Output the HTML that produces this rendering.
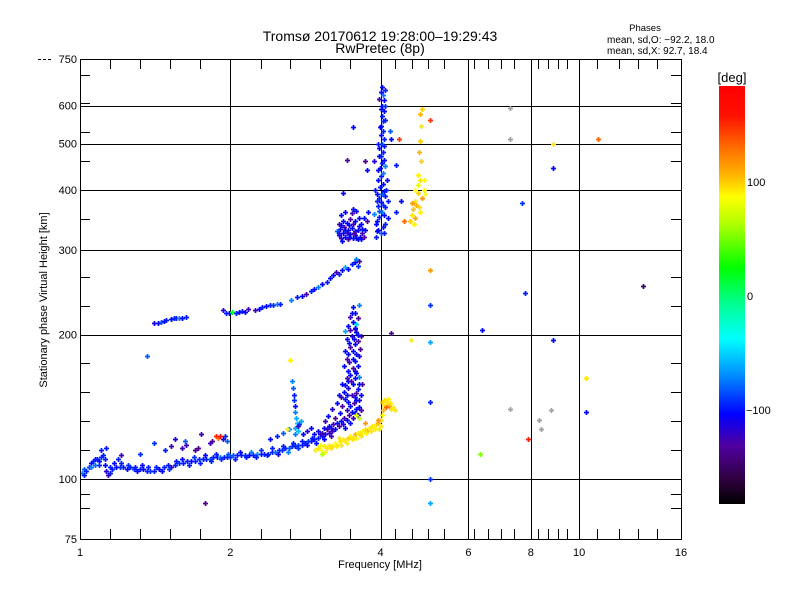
<!DOCTYPE html>
<html><head><meta charset="utf-8"><style>
body{margin:0;background:#fff;}
svg{display:block;font-family:"Liberation Sans",sans-serif;}
</style></head><body>
<svg id="chart" width="800" height="600" viewBox="0 0 800 600">
<defs>
<linearGradient id="cbar" x1="0" y1="0" x2="0" y2="1">
<stop offset="0" stop-color="#ff0000"/><stop offset="0.07" stop-color="#ff1000"/><stop offset="0.15" stop-color="#ff7000"/><stop offset="0.21" stop-color="#ffb000"/><stop offset="0.265" stop-color="#ffff00"/><stop offset="0.33" stop-color="#b0ff00"/><stop offset="0.435" stop-color="#00ff00"/><stop offset="0.52" stop-color="#00ff90"/><stop offset="0.605" stop-color="#00ffff"/><stop offset="0.69" stop-color="#0090ff"/><stop offset="0.785" stop-color="#0000ff"/><stop offset="0.86" stop-color="#5000a0"/><stop offset="0.94" stop-color="#300040"/><stop offset="1" stop-color="#000000"/>
</linearGradient>
</defs>
<rect x="0" y="0" width="800" height="600" fill="#fff"/>
<g id="grid"></g>
<g id="ticks"></g>
<g id="pts"></g>
<rect x="80.5" y="59.5" width="601" height="480" fill="none" stroke="#000" stroke-width="1"/>
<line x1="38" y1="59.5" x2="52" y2="59.5" stroke="#000" stroke-dasharray="3,2"/>
<text x="380" y="41" font-size="14" text-anchor="middle">Tromsø 20170612 19:28:00–19:29:43</text>
<text x="380" y="53" font-size="14" text-anchor="middle">RwPretec (8p)</text>
<text x="645" y="31" font-size="9.5" text-anchor="middle">Phases</text>
<text x="607" y="43" font-size="10">mean, sd,O: −92.2, 18.0</text>
<text x="607" y="54" font-size="10">mean, sd,X:  92.7, 18.4</text>
<text x="380" y="568" font-size="11" text-anchor="middle">Frequency [MHz]</text>
<text transform="translate(47,300) rotate(-90)" font-size="11" text-anchor="middle">Stationary phase Virtual Height [km]</text>
<rect x="719" y="86" width="26" height="418" fill="url(#cbar)"/>
<text x="732" y="82" font-size="13" text-anchor="middle">[deg]</text>
<g id="cbticks"></g>
</svg>
<script>
const NS="http://www.w3.org/2000/svg";
const xMajor=[1,2,4,6,8,10,16];
const xGrid=[2,4,6,8,10];
const xMinor=[1.149,1.32,1.516,1.741,2.30,2.64,3.03,3.48,4.27,4.63,4.97,5.37,6.15,6.57,6.97,7.39,8.28,8.68,9.07,9.46,10.88,12.0,13.1,14.3];
const yMajor=[75,100,200,300,400,500,600,750];
const yGrid=[100,200,300,400,500,600];
const yMinor=[87,93,114.9,132,151.6,174.1,229.7,263.9,348.2,459.5,528,606,696];
const cbLabels=[100,0,-100];

const lowTrace=[[1.01,103,-70],[1.02,105,-80],[1.03,104,-95],[1.04,106,-90],[1.05,108,-100],[1.06,109,-95],[1.07,107,-75],[1.08,110,-95],[1.09,109,-100],[1.10,111,-90],[1.11,112,-95],[1.12,107,-100],[1.13,104,-110],[1.14,102,-120],[1.15,103,-95],[1.16,105,-95],[1.17,108,-100],[1.19,110,-95],[1.20,106,-90],[1.22,106,-95],[1.24,105,-100],[1.26,106,-95],[1.28,105,-90],[1.30,104,-100],[1.32,105,-95],[1.34,105,-100],[1.36,104,-95],[1.38,104,-90],[1.41,104,-95],[1.44,105,-100],[1.47,106,-95],[1.50,107,-95],[1.52,106,-120],[1.55,107,-95],[1.58,108,-90],[1.61,108,-95],[1.64,109,-95],[1.67,109,-100],[1.70,109,-95],[1.73,110,-90],[1.76,110,-95],[1.79,110,-95],[1.82,110,-80],[1.85,111,-95],[1.88,111,-100],[1.91,111,-70],[1.94,111,-95],[1.97,111,-95],[2.00,111,-90],[2.03,112,-80],[2.06,112,-95],[2.10,112,-95],[2.14,112,-90],[2.18,112,-100],[2.22,112,-95],[2.26,113,-70],[2.30,113,-95],[2.34,113,-95],[2.38,113,-90],[2.42,114,-95],[2.46,114,-75],[2.50,115,-95],[2.54,115,-90],[2.58,116,-95],[2.62,116,-80],[2.66,117,-90],[2.70,117,-95],[2.74,118,-85],[2.78,118,-95],[2.82,119,-95],[2.86,120,-90],[2.90,120,-95],[2.95,121,-100],[3.00,122,-95],[3.05,123,-100],[3.10,124,-110],[3.15,125,-115],[3.20,126,-120],[2.40,121,-100],[2.48,123,-95],[2.55,125,-80],[2.62,127,-70],[2.70,128,-60],[1.10,115,-95],[1.13,116,-95],[1.21,112,-120],[1.32,113,-90],[1.48,115,-95],[1.52,117,-120],[1.60,116,-120],[1.63,118,-120],[1.70,115,-130],[1.62,120,-80],[1.55,121,-110],[1.41,119,-90],[1.72,116,-130],[1.75,124,-120]];
const lowTrace2=[[1.02,102,-95],[1.05,106,-70],[1.07,110,-95],[1.09,107,-90],[1.12,110,-95],[1.15,106,-95],[1.18,106,-100],[1.21,108,-95],[1.25,107,-90],[1.29,106,-95],[1.33,107,-100],[1.37,106,-95],[1.42,106,-95],[1.46,104,-100],[1.51,105,-90],[1.56,109,-95],[1.60,110,-100],[1.65,107,-95],[1.69,111,-90],[1.74,108,-95],[1.78,112,-100],[1.83,109,-95],[1.87,113,-95],[1.92,110,-90],[1.98,113,-80],[2.04,110,-95],[2.09,114,-100],[2.15,111,-95],[2.20,114,-70],[2.25,111,-95],[2.31,115,-90],[2.37,112,-95],[2.43,116,-95],[2.49,113,-100],[2.55,117,-95],[2.61,114,-70],[2.67,119,-95],[2.73,116,-90],[2.79,120,-95],[2.85,118,-100],[2.91,122,-95],[2.97,119,-100],[3.02,124,-110],[3.08,121,-100],[3.13,127,-110],[3.18,123,-120],[2.80,124,-100],[2.85,126,-110],[2.90,128,-100]];
const redCluster=[[1.87,123,160],[1.89,122,140],[1.91,123,170],[1.93,121,-110],[1.95,123,-90],[1.82,119,-120],[1.84,120,-130],[1.97,120,-80]];
const column275=[[2.66,160,-70],[2.67,155,-80],[2.68,150,-95],[2.69,146,-90],[2.70,142,-100],[2.70,138,-70],[2.71,134,-60],[2.72,131,-50],[2.73,129,-120],[2.75,130,-90],[2.77,132,-60],[2.74,126,-55],[2.70,124,-70],[2.64,177,95],[2.60,127,95]];
const xCluster=[[2.95,124,-100],[3.00,126,-105],[3.05,125,-120],[3.08,128,-100],[3.12,127,-125],[3.15,129,-100],[3.18,128,-110],[3.22,130,-120],[3.25,127,-100],[3.28,131,-100],[3.30,129,-125],[3.33,132,-100],[3.36,130,-110],[3.38,134,-120],[3.40,128,-100],[3.43,133,-100],[3.46,136,-125],[3.48,131,-100],[3.50,138,-100],[3.52,134,-120],[3.55,137,-100],[3.58,140,-100],[3.60,136,-110],[3.62,141,-100],[3.65,139,-125],[3.20,140,-110],[3.28,144,-100],[3.35,142,-125],[3.40,147,-100],[3.45,145,-100],[3.50,150,-120],[3.55,148,-100],[3.38,152,-100],[3.45,155,-110],[3.52,158,-100],[3.60,154,-100],[3.42,162,-125],[3.48,165,-100],[3.55,168,-100],[3.62,163,-70],[3.38,172,-100],[3.46,175,-120],[3.52,178,-100],[3.58,182,-100],[3.40,185,-100],[3.48,188,-125],[3.56,191,-100],[3.64,187,-130],[3.42,196,-100],[3.50,199,-110],[3.58,202,-100],[3.45,160,-100],[3.35,158,-100],[3.60,172,-100],[3.30,150,-100],[3.62,146,-110],[3.66,150,-100],[3.68,158,-130],[3.45,208,-100],[3.52,212,-100],[3.58,210,-50],[3.48,218,-120],[3.56,222,-100],[3.60,216,-130],[3.52,228,-100],[3.62,230,-70],[3.55,205,-125],[3.66,199,-130],[3.40,203,-60]];
const xCluster2=[[3.10,132,-120],[3.14,135,-100],[3.24,134,-125],[3.32,137,-100],[3.42,139,-120],[3.47,142,-100],[3.54,144,-125],[3.58,146,-100],[3.34,148,-120],[3.42,150,-100],[3.58,151,-125],[3.40,157,-100],[3.49,160,-125],[3.56,162,-100],[3.62,158,-100],[3.44,168,-100],[3.52,170,-125],[3.58,166,-100],[3.42,178,-125],[3.56,176,-100],[3.62,180,-110],[3.45,182,-100],[3.52,185,-100],[3.60,194,-125],[3.46,192,-100],[3.54,196,-100],[3.48,204,-125],[3.56,206,-100],[3.60,200,-100],[3.50,222,-100]];
const yellowTrace=[[2.96,115,95],[3.00,116,100],[3.04,115,90],[3.08,117,95],[3.12,116,100],[3.16,118,95],[3.20,117,100],[3.24,119,90],[3.28,118,95],[3.32,120,100],[3.36,121,95],[3.40,120,100],[3.44,122,110],[3.48,123,95],[3.52,122,100],[3.56,124,120],[3.60,125,95],[3.64,124,100],[3.68,126,95],[3.72,127,100],[3.76,126,120],[3.80,128,95],[3.84,129,100],[3.88,128,95],[3.92,130,100],[3.96,131,120],[4.00,129,95],[4.00,133,100],[4.02,136,95],[4.04,139,120],[4.06,142,100],[4.03,145,110],[4.08,146,95],[4.12,144,100],[4.16,142,130],[4.20,140,100],[4.24,141,95],[4.28,139,100],[4.10,141,140],[3.05,113,60],[3.02,118,85],[3.30,122,100],[3.72,131,130],[3.95,133,130],[3.62,134,60],[3.58,136,80],[3.10,114,95],[3.18,116,100],[3.26,117,95],[3.34,118,100],[3.42,119,95],[3.50,121,100],[3.58,122,95],[3.66,123,100],[3.74,125,95],[3.82,126,100],[3.90,127,95],[3.98,127,100],[4.06,146,100],[4.14,147,95],[4.18,144,100]];
const midTrace=[[1.41,211,-110],[1.43,211,-100],[1.45,212,-80],[1.47,213,-100],[1.49,214,-95],[1.52,215,-100],[1.54,216,-90],[1.56,217,-95],[1.58,216,-70],[1.60,217,-100],[1.63,218,-95],[1.93,225,-110],[1.96,222,-95],[1.99,222,-100],[2.02,223,20],[2.05,222,-95],[2.08,223,-100],[2.11,224,-95],[2.14,223,-100],[2.17,226,-120],[2.24,225,-120],[2.28,226,-100],[2.32,228,-95],[2.36,229,-100],[2.40,230,-95],[2.44,230,-90],[2.48,231,-70],[2.52,232,-95],[2.65,236,-70],[2.72,240,-95],[2.78,241,-100],[2.84,243,-120],[2.90,246,-95],[2.95,249,-100],[3.00,251,-70],[3.06,255,-100],[3.12,257,-95],[3.17,262,-100],[3.22,266,-100],[3.26,270,-120],[3.30,268,-95],[3.35,272,-100],[3.40,276,-60],[3.45,274,-100],[3.50,280,-95],[3.55,283,-100],[3.60,278,-90],[3.63,285,-130],[3.58,287,-70]];
const upperBlob=[[3.30,322,-100],[3.33,318,-120],[3.36,325,-100],[3.40,320,-100],[3.44,316,-125],[3.48,324,-100],[3.52,318,-100],[3.56,322,-110],[3.60,316,-100],[3.64,320,-100],[3.68,325,-120],[3.72,330,-100],[3.32,332,-100],[3.38,335,-125],[3.44,330,-100],[3.50,333,-100],[3.56,328,-110],[3.62,336,-100],[3.30,340,-120],[3.36,345,-100],[3.42,342,-100],[3.48,348,-125],[3.55,344,-100],[3.62,350,-100],[3.34,355,-100],[3.40,360,-100],[3.50,358,-125],[3.58,362,-100],[3.66,340,-100],[3.70,350,-100],[3.75,345,-130],[3.78,360,-100],[3.28,328,-80],[3.46,338,-100],[3.52,366,-100],[3.31,326,-110],[3.35,314,-100],[3.42,326,-120],[3.46,320,-100],[3.54,326,-125],[3.58,318,-100],[3.66,316,-100],[3.70,320,-125],[3.34,338,-100],[3.40,330,-100],[3.52,340,-120],[3.60,330,-100],[3.68,332,-100]];
const column4=[[3.92,320,-95],[3.96,330,-100],[4.00,325,-80],[4.04,335,-95],[3.94,345,-100],[3.98,352,-95],[4.02,360,-70],[4.06,355,-100],[3.95,370,-95],[4.00,378,-100],[4.04,372,-90],[3.97,385,-95],[4.02,392,-80],[4.06,398,-100],[3.99,405,-95],[4.04,412,-100],[3.96,420,-100],[4.01,428,-95],[4.05,435,-70],[3.99,445,-100],[4.03,455,-95],[4.07,462,-100],[4.00,470,-90],[4.04,480,-95],[3.98,490,-100],[4.02,500,-80],[4.06,510,-95],[4.00,520,-100],[4.04,532,-95],[4.01,545,-100],[4.05,558,-90],[4.02,570,-95],[4.06,585,-100],[4.03,600,-95],[4.07,615,-100],[4.04,630,-70],[4.08,645,-95],[4.03,655,-100],[3.93,380,-95],[3.90,400,-100],[3.89,460,-110],[4.10,400,-95],[4.12,420,-100],[4.15,380,-95],[3.91,340,-100],[4.08,340,-95],[4.14,350,-100],[3.88,356,-70],[3.95,500,-95],[4.00,590,-100],[3.98,620,-120],[3.75,440,-100],[3.72,460,-130],[4.20,510,-100],[4.18,530,-80],[4.30,450,-95],[4.40,380,-100],[4.30,360,-95],[3.52,540,-100],[3.42,463,-125],[3.36,395,-100],[3.94,328,-100],[4.06,326,-95],[3.97,362,-80],[4.08,368,-95],[3.93,392,-100],[4.08,388,-95],[3.96,440,-100],[4.08,448,-70],[3.98,470,-100],[4.06,495,-95],[3.99,540,-100],[4.08,560,-95],[4.00,640,-100],[4.09,600,-90]];
const yellowColumn=[[4.85,590,110],[4.80,575,120],[4.82,545,100],[4.80,505,110],[4.78,480,120],[4.82,460,110],[4.75,430,95],[4.80,420,100],[4.70,400,90],[4.75,395,110],[4.68,380,100],[4.85,385,130],[4.72,372,120],[4.65,365,115],[4.78,368,105],[4.62,355,100],[4.70,350,125],[4.80,360,95],[4.58,345,110],[4.66,340,95],[4.90,400,95],[4.88,420,85],[4.92,392,90],[4.75,410,80],[4.62,375,130],[5.03,560,150],[4.45,345,140],[4.35,512,150]];
const scattered=[[5.03,273,130],[5.03,230,-90],[5.03,193,-60],[5.03,145,-95],[5.03,100,-90],[5.03,89,-60],[6.4,204,-100],[6.33,113,50],[7.7,375,-90],[7.8,244,-95],[7.9,121,160],[8.85,500,100],[8.85,445,-100],[8.85,195,-100],[10.3,162,100],[10.3,138,-100],[10.9,510,140],[13.4,253,-140],[1.78,89,-130],[1.36,180,-80],[4.6,195,95],[4.2,201,-130]];
const faint=[[7.26,592],[7.26,510],[7.26,140],[8.3,133],[8.4,127],[8.8,139]];

const xs=f=>80+150.25*Math.log2(f);
const ys=h=>539-480*Math.log10(h/75);
const cStops=[[-182,[0,0,0]],[-150,[48,0,64]],[-126,[80,0,160]],[-101,[0,0,255]],[-70,[0,128,255]],[-37,[0,255,255]],[0,[0,255,144]],[25,[0,255,0]],[60,[176,255,0]],[89,[255,255,0]],[128,[255,160,0]],[154,[255,32,0]],[184,[255,0,0]]];
function pcol(p){
  if(p<=cStops[0][0])return "rgb(0,0,0)";
  for(let i=1;i<cStops.length;i++){
    if(p<=cStops[i][0]){const a=cStops[i-1],b=cStops[i];const t=(p-a[0])/(b[0]-a[0]);
      const c=a[1].map((v,k)=>Math.round(v+(b[1][k]-v)*t));return `rgb(${c[0]},${c[1]},${c[2]})`;}
  }
  return "rgb(255,0,0)";
}
function mk(tag,attrs,parent){const e=document.createElementNS(NS,tag);for(const k in attrs)e.setAttribute(k,attrs[k]);parent.appendChild(e);return e;}
const grid=document.getElementById('grid'),ticks=document.getElementById('ticks'),pts=document.getElementById('pts'),cbt=document.getElementById('cbticks');
xGrid.forEach(f=>{const x=Math.round(xs(f))+0.5;const l=mk('line',{x1:x,y1:59,x2:x,y2:539,stroke:'#000','stroke-width':1},grid);

});
yGrid.forEach(h=>{const y=Math.round(ys(h))+0.5;const l=mk('line',{x1:80,y1:y,x2:681,y2:y,stroke:'#000','stroke-width':1},grid);

});
xMinor.forEach(f=>{const x=Math.round(xs(f))+0.5;
const a=mk('line',{x1:x,y1:539,x2:x,y2:529,stroke:'#000'},ticks);


const b=mk('line',{x1:x,y1:59,x2:x,y2:69,stroke:'#000'},ticks);

});
yMinor.forEach(h=>{const y=Math.round(ys(h))+0.5;
const a=mk('line',{x1:80,y1:y,x2:90,y2:y,stroke:'#000'},ticks);


const b=mk('line',{x1:671,y1:y,x2:681,y2:y,stroke:'#000'},ticks);

});
xMajor.forEach(f=>{const t=mk('text',{x:xs(f),y:556,'font-size':11,'text-anchor':'middle'},ticks);t.textContent=f;

});
yMajor.forEach(h=>{const t=mk('text',{x:77,y:ys(h)+4,'font-size':11,'text-anchor':'end'},ticks);t.textContent=h;

});
cbLabels.forEach(v=>{const y=296-v*1.14;
const t=mk('text',{x:v<0?746:747,y:y+4,'font-size':11},cbt);t.textContent=v<0?'−'+Math.abs(v):v;

});
function cross(f,h,col){const x=Math.round(xs(f))+0.5,y=Math.round(ys(h))+0.5;
const p=mk('path',{d:`M${x-2.5},${y}H${x+2.5}M${x},${y-2.5}V${y+2.5}`,stroke:col,'stroke-width':1.7,fill:'none'},pts);

}
[lowTrace,lowTrace2,redCluster,column275,xCluster,xCluster2,yellowTrace,midTrace,upperBlob,column4,yellowColumn,scattered].forEach(arr=>arr.forEach(d=>cross(d[0],d[1],pcol(d[2]))));
faint.forEach(d=>cross(d[0],d[1],'#a0a0a0'));
</script>
</body></html>
